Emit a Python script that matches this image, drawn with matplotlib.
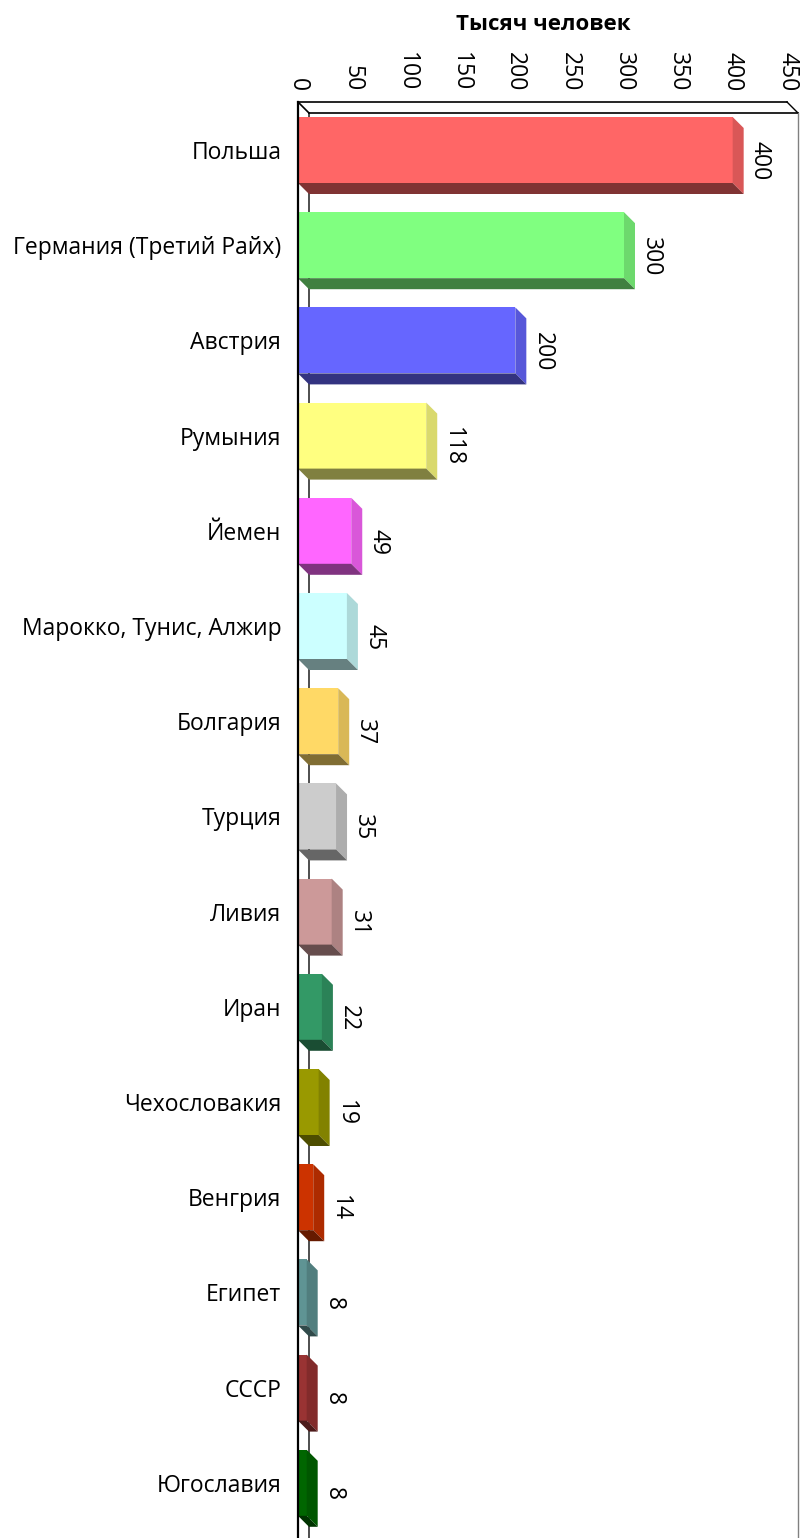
import matplotlib
matplotlib.use('Agg')
import matplotlib.pyplot as plt
from matplotlib.patches import Polygon
from matplotlib.colors import to_rgb

plt.rcParams['font.family'] = ['Open Sans', 'DejaVu Sans']

# Data
countries = ['Польша', 'Германия (Третий Райх)', 'Австрия', 'Румыния', 'Йемен',
             'Марокко, Тунис, Алжир', 'Болгария', 'Турция', 'Ливия', 'Иран',
             'Чехословакия', 'Венгрия', 'Египет', 'СССР', 'Югославия']
values = [400, 300, 200, 118, 49, 45, 37, 35, 31, 22, 19, 14, 8, 8, 8]
colors = ['#FF6666', '#80FF80', '#6666FF', '#FFFF80', '#FF66FF',
          '#CCFFFF', '#FFD966', '#CCCCCC', '#CC9999', '#339966',
          '#999900', '#CC3300', '#5F9494', '#993333', '#006600']
xticks = list(range(0, 451, 50))
title = 'Тысяч человек'

W, H = 801, 1538
fig = plt.figure(figsize=(W / 100, H / 100), dpi=100)
left_px, right_px, top_px = 298, 787, 102
ax = fig.add_axes([left_px / W, 0, (right_px - left_px) / W, (H - top_px) / H])

xmax = 450
ppx = (right_px - left_px) / xmax          # px per unit along x
ppy = 95.2                                 # px per category
y_top = (top_px - 150) / ppy
y_bot = (H - 150) / ppy
ax.set_xlim(0, xmax)
ax.set_ylim(y_bot, y_top)

dx = 11 / ppx
dy = 11 / ppy
h = 33 / ppy
fs = 16.5


def shade(c, f):
    r, g, b = to_rgb(c)
    return (r * f, g * f, b * f)


# back wall line
ax.plot([dx, dx], [y_top + dy, y_bot], color='#404040', lw=1.3, zorder=1, clip_on=False)

for i, (v, c) in enumerate(zip(values, colors)):
    t, b = i - h, i + h
    front = Polygon([(0, t), (v, t), (v, b), (0, b)], closed=True,
                    facecolor=c, edgecolor='none', zorder=3)
    side = Polygon([(v, t), (v + dx, t + dy), (v + dx, b + dy), (v, b)], closed=True,
                   facecolor=shade(c, 0.85), edgecolor='none', zorder=3)
    bottom = Polygon([(0, b), (v, b), (v + dx, b + dy), (dx, b + dy)], closed=True,
                     facecolor=shade(c, 0.5), edgecolor='none', zorder=3)
    for p in (front, side, bottom):
        p.set_clip_on(False)
        ax.add_patch(p)
    ax.annotate(str(v), xy=(v + dx, i + dy), xytext=(3, 0), textcoords='offset points',
                rotation=270, ha='left', va='center', fontsize=fs, zorder=5)

# frame lines
ax.plot([0, 0], [y_top, y_bot], color='black', lw=1.6, zorder=4, clip_on=False)
ax.plot([0, xmax], [y_top, y_top], color='black', lw=1.2, zorder=4, clip_on=False)
ax.plot([dx, xmax + dx], [y_top + dy, y_top + dy], color='black', lw=1.2, zorder=4, clip_on=False)
ax.plot([0, dx], [y_top, y_top + dy], color='black', lw=1.2, zorder=4, clip_on=False)
ax.plot([xmax, xmax + dx], [y_top, y_top + dy], color='black', lw=1.0, zorder=4, clip_on=False)
ax.plot([xmax + dx, xmax + dx], [y_top + dy, y_bot], color='#808080', lw=1.0, zorder=4, clip_on=False)

for s in ax.spines.values():
    s.set_visible(False)

ax.xaxis.tick_top()
ax.set_xticks(xticks)
ax.set_xticklabels([str(x) for x in xticks], rotation=270, fontsize=fs)
ax.tick_params(axis='x', length=0, pad=8)
ax.set_yticks(range(len(countries)))
ax.set_yticklabels(countries, fontsize=fs)
ax.tick_params(axis='y', length=0, pad=12)

fig.text(543 / W, 1 - 24 / H, title, ha='center', va='center', fontsize=16, fontweight='bold')

fig.savefig('out.png', dpi=100)
